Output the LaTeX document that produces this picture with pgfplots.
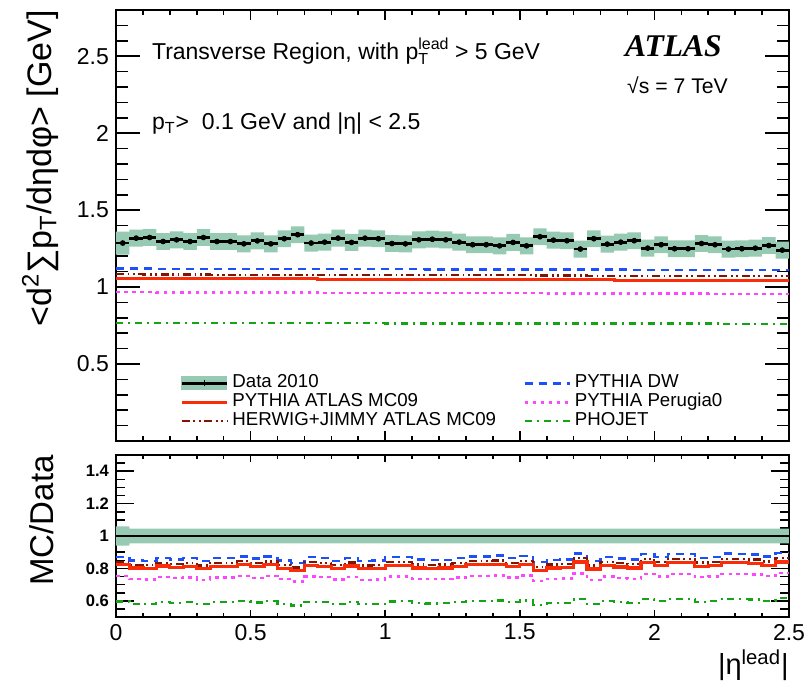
\documentclass[border=0pt]{standalone}
\usepackage{fontspec}
\setmainfont{Liberation Sans}
\newfontfamily\atlasfont{Liberation Serif}
\usepackage{pgfplots}
\pgfplotsset{compat=1.18}
\usepackage{pgfplotstable}
\usepgfplotslibrary{fillbetween}

\definecolor{bandgreen}{RGB}{150,202,178}
\definecolor{mcred}{RGB}{250,45,10}
\definecolor{mcblue}{RGB}{30,80,250}
\definecolor{mcbrown}{RGB}{130,20,0}
\definecolor{mcmag}{RGB}{255,70,255}
\definecolor{mcgreen}{RGB}{20,165,20}

\pgfplotstableread{
x    D     up    lo    R     B     H     M     G     rR    rB    rH    rM    rG
0.00 1.286 1.361 1.211 1.057 1.120 1.083 0.967 0.766 0.822 0.871 0.842 0.752 0.596
0.05 1.318 1.373 1.263 1.057 1.120 1.083 0.967 0.766 0.802 0.850 0.822 0.734 0.581
0.10 1.322 1.377 1.267 1.056 1.120 1.082 0.967 0.766 0.799 0.847 0.819 0.731 0.579
0.15 1.296 1.351 1.241 1.056 1.119 1.082 0.966 0.766 0.815 0.864 0.835 0.746 0.591
0.20 1.307 1.362 1.252 1.056 1.119 1.082 0.966 0.766 0.808 0.856 0.828 0.739 0.586
0.25 1.296 1.351 1.241 1.055 1.119 1.082 0.966 0.766 0.814 0.863 0.835 0.745 0.591
0.30 1.322 1.377 1.267 1.055 1.119 1.082 0.966 0.766 0.798 0.846 0.818 0.730 0.579
0.35 1.296 1.351 1.241 1.055 1.119 1.081 0.965 0.765 0.814 0.863 0.834 0.745 0.591
0.40 1.296 1.351 1.241 1.054 1.118 1.081 0.965 0.765 0.814 0.863 0.834 0.745 0.591
0.45 1.281 1.336 1.226 1.054 1.118 1.081 0.965 0.765 0.823 0.873 0.844 0.753 0.597
0.50 1.300 1.355 1.245 1.054 1.118 1.081 0.965 0.765 0.811 0.860 0.831 0.742 0.589
0.55 1.281 1.336 1.226 1.054 1.118 1.080 0.964 0.765 0.822 0.873 0.843 0.753 0.597
0.60 1.314 1.369 1.259 1.053 1.118 1.080 0.964 0.765 0.801 0.850 0.822 0.734 0.582
0.65 1.340 1.395 1.285 1.053 1.117 1.080 0.964 0.765 0.786 0.834 0.806 0.719 0.571
0.70 1.286 1.341 1.231 1.053 1.117 1.080 0.964 0.765 0.818 0.869 0.839 0.749 0.595
0.75 1.292 1.347 1.237 1.052 1.117 1.079 0.963 0.765 0.814 0.865 0.835 0.746 0.592
0.80 1.318 1.373 1.263 1.052 1.117 1.079 0.963 0.765 0.798 0.847 0.819 0.731 0.580
0.85 1.290 1.345 1.235 1.052 1.117 1.079 0.963 0.765 0.815 0.866 0.836 0.746 0.593
0.90 1.318 1.373 1.263 1.051 1.116 1.079 0.963 0.765 0.798 0.847 0.818 0.730 0.580
0.95 1.314 1.369 1.259 1.051 1.116 1.078 0.962 0.765 0.800 0.849 0.821 0.732 0.582
1.00 1.283 1.338 1.228 1.051 1.116 1.078 0.962 0.764 0.819 0.870 0.840 0.750 0.596
1.05 1.281 1.336 1.226 1.050 1.116 1.078 0.962 0.764 0.820 0.871 0.841 0.751 0.597
1.10 1.307 1.362 1.252 1.050 1.116 1.078 0.962 0.764 0.803 0.854 0.824 0.736 0.585
1.15 1.311 1.366 1.256 1.050 1.115 1.077 0.962 0.764 0.801 0.851 0.822 0.733 0.583
1.20 1.307 1.362 1.252 1.049 1.115 1.077 0.961 0.764 0.803 0.853 0.824 0.735 0.585
1.25 1.292 1.347 1.237 1.049 1.115 1.077 0.961 0.764 0.812 0.863 0.833 0.744 0.591
1.30 1.275 1.330 1.220 1.049 1.115 1.077 0.961 0.764 0.822 0.874 0.844 0.754 0.599
1.35 1.275 1.330 1.220 1.048 1.115 1.076 0.961 0.764 0.822 0.874 0.844 0.753 0.599
1.40 1.268 1.323 1.213 1.048 1.114 1.076 0.960 0.764 0.826 0.879 0.849 0.757 0.602
1.45 1.290 1.345 1.235 1.048 1.114 1.076 0.960 0.764 0.812 0.864 0.834 0.744 0.592
1.50 1.268 1.323 1.213 1.047 1.114 1.076 0.960 0.764 0.826 0.878 0.848 0.757 0.602
1.55 1.327 1.382 1.272 1.047 1.114 1.075 0.960 0.764 0.789 0.839 0.810 0.723 0.575
1.60 1.305 1.360 1.250 1.047 1.114 1.075 0.959 0.763 0.802 0.853 0.824 0.735 0.585
1.65 1.301 1.356 1.246 1.046 1.113 1.075 0.959 0.763 0.804 0.856 0.826 0.737 0.587
1.70 1.247 1.302 1.192 1.046 1.113 1.075 0.959 0.763 0.839 0.893 0.862 0.769 0.612
1.75 1.314 1.369 1.259 1.046 1.113 1.074 0.959 0.763 0.796 0.847 0.818 0.729 0.581
1.80 1.279 1.334 1.224 1.046 1.113 1.074 0.958 0.763 0.817 0.870 0.840 0.749 0.597
1.85 1.292 1.347 1.237 1.045 1.113 1.074 0.958 0.763 0.809 0.861 0.831 0.742 0.591
1.90 1.301 1.356 1.246 1.045 1.112 1.074 0.958 0.763 0.803 0.855 0.825 0.736 0.586
1.95 1.253 1.308 1.198 1.045 1.112 1.073 0.958 0.763 0.834 0.888 0.857 0.764 0.609
2.00 1.275 1.330 1.220 1.044 1.112 1.073 0.957 0.763 0.819 0.872 0.842 0.751 0.598
2.05 1.249 1.304 1.194 1.044 1.112 1.073 0.957 0.763 0.836 0.890 0.859 0.766 0.611
2.10 1.249 1.304 1.194 1.044 1.112 1.073 0.957 0.763 0.836 0.890 0.859 0.766 0.611
2.15 1.283 1.338 1.228 1.043 1.111 1.072 0.957 0.763 0.813 0.866 0.836 0.746 0.594
2.20 1.275 1.330 1.220 1.043 1.111 1.072 0.956 0.763 0.818 0.872 0.841 0.750 0.598
2.25 1.247 1.302 1.192 1.043 1.111 1.072 0.956 0.762 0.836 0.891 0.859 0.767 0.611
2.30 1.249 1.304 1.194 1.042 1.111 1.072 0.956 0.762 0.834 0.889 0.858 0.765 0.610
2.35 1.253 1.308 1.198 1.042 1.111 1.071 0.956 0.762 0.832 0.886 0.855 0.763 0.608
2.40 1.270 1.325 1.215 1.042 1.110 1.071 0.956 0.762 0.820 0.874 0.843 0.752 0.600
2.45 1.240 1.295 1.185 1.041 1.110 1.071 0.955 0.762 0.840 0.895 0.864 0.770 0.615
2.50 1.240 1.295 1.185 1.041 1.110 1.071 0.955 0.762 0.840 0.895 0.864 0.770 0.615
}\tab

\pgfplotsset{
  atl/.style={
    scale only axis, width=336.5pt, xmin=0, xmax=2.5,
    axis line style={line width=1pt},
    tick style={line width=0.8pt, black},
    tick align=inside,
    xtick={0,0.5,1,1.5,2,2.5},
    minor xtick={0.1,0.2,0.3,0.4,0.6,0.7,0.8,0.9,1.1,1.2,1.3,1.4,1.6,1.7,1.8,1.9,2.1,2.2,2.3,2.4},
    /pgf/number format/assume math mode=true,
    ticklabel style={font=\fontsize{11.5}{13}\selectfont},
    legend image code/.code={\draw[##1] (0pt,0pt) -- (22.5pt,0pt);},
  },
  dwstyle/.style={mcblue, line width=1.2pt, dash pattern=on 4pt off 3pt, const plot},
  mc09style/.style={mcred, line width=1.5pt, const plot},
  perstyle/.style={mcmag, line width=1.2pt, dash pattern=on 1.8pt off 2.2pt, const plot},
  herstyle/.style={mcbrown, line width=1.1pt, dash pattern=on 4pt off 1.8pt on 0.9pt off 1.8pt on 0.9pt off 1.8pt, const plot},
  phostyle/.style={mcgreen, line width=1.1pt, dash pattern=on 3.5pt off 2.5pt on 1pt off 2.5pt, const plot},
}

\begin{document}
\begin{tikzpicture}
\begin{axis}[atl, at={(0,0)}, anchor=north west, height=215.5pt,
  ymin=0, ymax=2.8,
  ytick={0.5,1,1.5,2,2.5},
  minor ytick={0.1,0.2,0.3,0.4,0.6,0.7,0.8,0.9,1.1,1.2,1.3,1.4,1.6,1.7,1.8,1.9,2.1,2.2,2.3,2.4,2.6,2.7},
  xticklabels={},
  major tick length=12pt, minor tick length=6pt,
  xtick style={/pgfplots/major tick length=5pt, /pgfplots/minor tick length=2.5pt},
  ylabel={\fontsize{17}{19}\selectfont <d\textsuperscript{2}∑p\textsubscript{T}/dηdφ> [GeV]},
  ylabel style={at={(axis description cs:-0.085,1.0)}, anchor=south east, inner sep=0pt},
  legend columns=2,
  legend style={draw=none, fill=none, inner sep=0pt, at={(axis description cs:0.0951,0.1555)}, anchor=north west,
    nodes={inner sep=0pt, text height=6.8pt, text depth=2.2pt},
    font=\fontsize{9.35}{10}\selectfont, row sep=0.5pt,
    /tikz/every odd column/.style={column sep=2pt}},
  legend cell align=left,
]
\addplot[name path=up, draw=none, const plot, forget plot] table[x=x, y=up]{\tab};
\addplot[name path=lo, draw=none, const plot, forget plot] table[x=x, y=lo]{\tab};
\addplot[bandgreen, forget plot] fill between[of=up and lo];

\addplot[only marks, black, mark=*, mark size=1.2pt,
  skip coords between index={50}{51},
  error bars/.cd, x dir=both, x explicit, y dir=both, y explicit,
  error bar style={line width=1.4pt, black}, error mark=none,
  /pgfplots/legend image code/.code={
    \fill[bandgreen] (0pt,-3.25pt) rectangle (22.5pt,3.25pt);
    \draw[black, line width=1.2pt] (0pt,0pt) -- (22.5pt,0pt);
    \draw[black, line width=0.8pt] (11.25pt,-1.5pt) -- (11.25pt,1.5pt);}]
  table[x expr=\thisrow{x}+0.025, y=D, x error expr=0.025, y error expr=0.015]{\tab};
\addlegendentry{\makebox[145.5pt][l]{Data 2010}}

\addplot[dwstyle] table[x=x, y=B]{\tab};
\addlegendentry{PYTHIA DW}
\addplot[mc09style] table[x=x, y=R]{\tab};
\addlegendentry{\makebox[145.5pt][l]{PYTHIA ATLAS MC09}}
\addplot[perstyle] table[x=x, y=M]{\tab};
\addlegendentry{PYTHIA Perugia0}
\addplot[herstyle] table[x=x, y=H]{\tab};
\addlegendentry{\makebox[145.5pt][l]{HERWIG+JIMMY ATLAS MC09}}
\addplot[phostyle] table[x=x, y=G]{\tab};
\addlegendentry{PHOJET}

\node[anchor=base west, font=\fontsize{11.5}{13}\selectfont, inner sep=0pt] at (axis description cs:0.053,0.886)
  {Transverse Region, with p\rlap{\raisebox{-2.6pt}{\fontsize{8}{9}\selectfont T}}\raisebox{5pt}{\fontsize{8}{9}\selectfont lead} {>} 5 GeV};
\node[anchor=base west, font=\fontsize{11.5}{13}\selectfont, inner sep=0pt] at (axis description cs:0.053,0.7216)
  {p\textsubscript{T}{>}\ \ 0.1 GeV and |η| {<} 2.5};
\node[anchor=base west, font=\atlasfont\bfseries\itshape\fontsize{15.8}{17}\selectfont, inner sep=0pt] at (axis description cs:0.756,0.8916) {ATLAS};
\node[anchor=base west, font=\fontsize{10.6}{12}\selectfont, inner sep=0pt] at (axis description cs:0.759,0.8067) {√s = 7 TeV};
\end{axis}

\begin{axis}[atl, at={(0pt,-222.5pt)}, anchor=north west, height=81pt,
  ymin=0.5, ymax=1.5,
  ytick={0.6,0.8,1,1.2,1.4},
  minor ytick={0.55,0.65,0.7,0.75,0.85,0.9,0.95,1.05,1.1,1.15,1.25,1.3,1.35,1.45},
  xticklabels={0,0.5,1,1.5,2,2.5},
  major tick length=9pt, minor tick length=4.5pt,
  xtick style={/pgfplots/major tick length=3.5pt, /pgfplots/minor tick length=2pt},
  yticklabel style={font=\bfseries\fontsize{8.3}{10}\selectfont},
  ylabel={\fontsize{16.5}{18}\selectfont MC/Data},
  ylabel style={at={(axis description cs:-0.092,1.0)}, anchor=south east, inner sep=0pt},
  xlabel={\fontsize{14.5}{16}\selectfont |η\textsuperscript{lead}|},
  xlabel style={at={(axis description cs:1.0,-0.198)}, anchor=north east, inner sep=0pt},
]
\addplot[name path=rup, draw=none, const plot, forget plot] coordinates {(0,1.06) (0.05,1.045) (2.5,1.045)};
\addplot[name path=rlo, draw=none, const plot, forget plot] coordinates {(0,0.94) (0.05,0.955) (2.5,0.955)};
\addplot[bandgreen, forget plot] fill between[of=rup and rlo];
\addplot[black, line width=0.8pt] coordinates {(0,1) (2.5,1)};
\addplot[dwstyle] table[x=x, y=rB]{\tab};
\addplot[perstyle] table[x=x, y=rM]{\tab};
\addplot[herstyle] table[x=x, y=rH]{\tab};
\addplot[phostyle] table[x=x, y=rG]{\tab};
\addplot[mc09style, line width=1.6pt] table[x=x, y=rR]{\tab};
\end{axis}

\pgfresetboundingbox
\path[use as bounding box] (-58pt,5pt) rectangle (344.5pt,-335.5pt);
\end{tikzpicture}
\end{document}
